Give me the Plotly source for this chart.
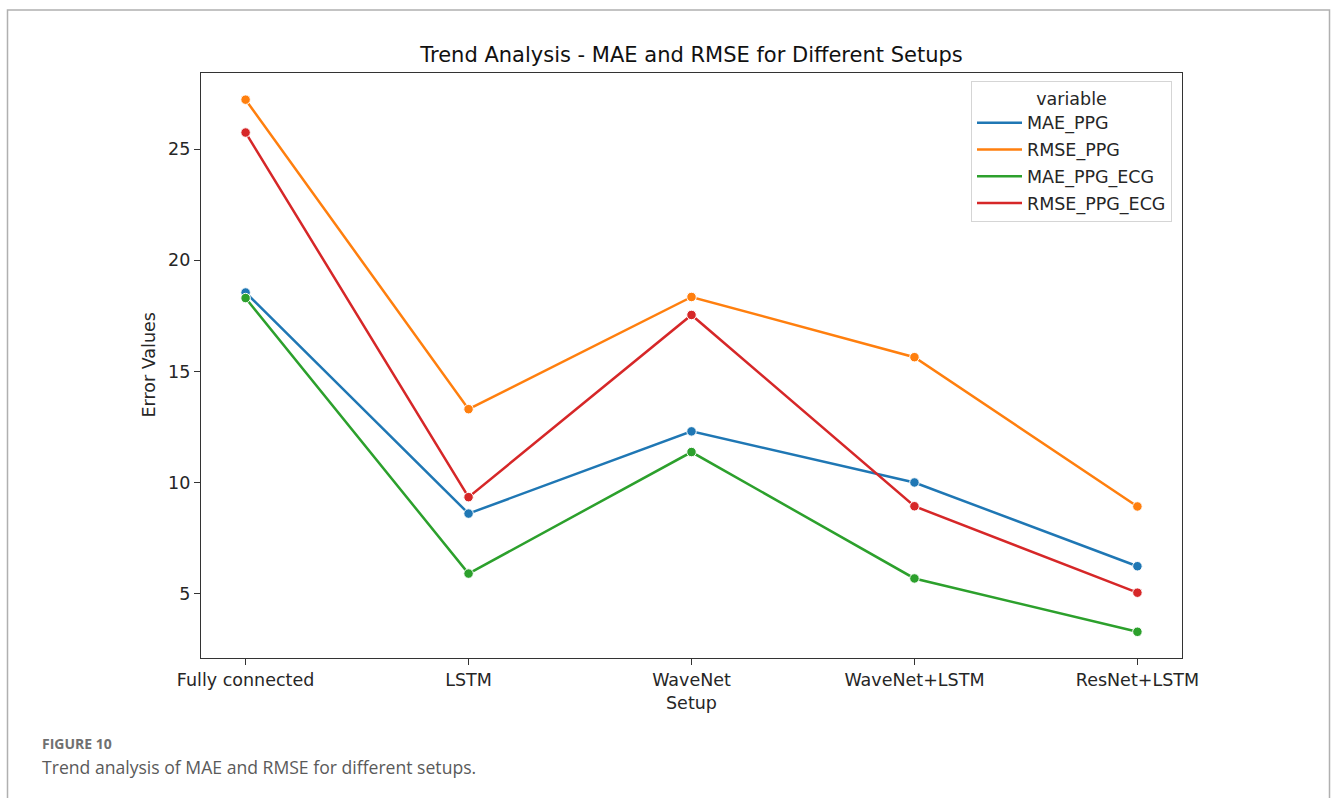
import plotly.graph_objects as go

setups = ["Fully connected", "LSTM", "WaveNet", "WaveNet+LSTM", "ResNet+LSTM"]
mae_ppg = [18.55, 8.6, 12.3, 10.0, 6.23]
rmse_ppg = [27.23, 13.3, 18.35, 15.64, 8.92]
mae_ppg_ecg = [18.3, 5.9, 11.37, 5.68, 3.28]
rmse_ppg_ecg = [25.75, 9.34, 17.54, 8.93, 5.04]

series_names = ["MAE_PPG", "RMSE_PPG", "MAE_PPG_ECG", "RMSE_PPG_ECG"]
series_vals = [mae_ppg, rmse_ppg, mae_ppg_ecg, rmse_ppg_ecg]
colors = ["#1f77b4", "#ff7f0e", "#2ca02c", "#d62728"]

W, H = 1335, 798
# plot area in page pixels
L, R, T, B = 201, 1182, 73, 658
pw, ph = R - L, B - T


def px(x):
    return (x - L) / pw


def py(y):
    return (B - y) / ph


FONT = "DejaVu Sans"
TXT = "#262626"
FS = 17.5

fig = go.Figure()
for name, vals, c in zip(series_names, series_vals, colors):
    fig.add_trace(go.Scatter(
        x=setups, y=vals, name=name, mode="lines+markers",
        showlegend=False,
        line=dict(color=c, width=2.5),
        marker=dict(color=c, size=9.5, line=dict(color="white", width=1)),
    ))
# legend entries (line only, as in the reference)
for name, c in zip(series_names, colors):
    fig.add_trace(go.Scatter(
        x=[None], y=[None], name=name, mode="lines", legendgroup=name,
        line=dict(color=c, width=2.5),
    ))

fig.update_layout(
    width=W, height=H,
    margin=dict(l=L, r=W - R, t=T, b=H - B),
    paper_bgcolor="white", plot_bgcolor="white",
    font=dict(family=FONT, size=FS, color=TXT),
    title=dict(text="Trend Analysis - MAE and RMSE for Different Setups",
               x=0.5, xref="paper", y=1 - 55 / H, yref="container",
               xanchor="center", yanchor="middle",
               font=dict(family=FONT, size=21, color="#111")),
    showlegend=True,
    legend=dict(
        x=px(971), y=py(81), xanchor="left", yanchor="top",
        bgcolor="rgba(255,255,255,0.85)", bordercolor="#d5d5d5", borderwidth=1,
        font=dict(family=FONT, size=FS, color=TXT),
        title=dict(text="variable", side="top center",
                   font=dict(family=FONT, size=FS, color=TXT)),
        tracegroupgap=1, itemwidth=45,
    ),
    xaxis=dict(
        type="category", range=[-0.2, 4.2],
        showline=True, linecolor="#333", linewidth=1.2, mirror=True,
        ticks="outside", ticklen=6, tickwidth=1.2, tickcolor="#333",
        showgrid=False, zeroline=False,
        tickfont=dict(family=FONT, size=FS, color=TXT),
    ),
    yaxis=dict(
        range=[2.1, 28.43],
        tickvals=[5, 10, 15, 20, 25],
        showline=True, linecolor="#333", linewidth=1.2, mirror=True,
        ticks="outside", ticklen=6, tickwidth=1.2, tickcolor="#333",
        showgrid=False, zeroline=False,
        tickfont=dict(family=FONT, size=FS, color=TXT),
    ),
)

# axis titles
fig.add_annotation(text="Setup", x=0.5, y=py(703), xref="paper", yref="paper",
                   showarrow=False, xanchor="center", yanchor="middle",
                   font=dict(family=FONT, size=FS, color=TXT))
fig.add_annotation(text="Error Values", x=px(148), y=0.5, xref="paper", yref="paper",
                   showarrow=False, xanchor="center", yanchor="middle", textangle=-90,
                   font=dict(family=FONT, size=FS, color=TXT))

# caption
fig.add_annotation(text="<b>FIGURE 10</b>", x=px(40), y=py(743), xref="paper", yref="paper",
                   showarrow=False, xanchor="left", yanchor="middle",
                   font=dict(family="Open Sans", size=14, color="#707070"))
fig.add_annotation(text="Trend analysis of MAE and RMSE for different setups.",
                   x=px(40), y=py(767), xref="paper", yref="paper",
                   showarrow=False, xanchor="left", yanchor="middle",
                   font=dict(family="Open Sans", size=17.6, color="#5a5a5a"))

# outer frame
fig.add_shape(type="rect", xref="paper", yref="paper",
              x0=px(7.5), x1=px(1329.5), y0=py(820), y1=py(10),
              line=dict(color="#b0b0b0", width=1.5), fillcolor="rgba(0,0,0,0)",
              layer="below")

fig.write_html("out.html",
               config={"displayModeBar": False},
               post_script="document.body.style.margin='0';"
                           "document.body.style.overflow='hidden';")
